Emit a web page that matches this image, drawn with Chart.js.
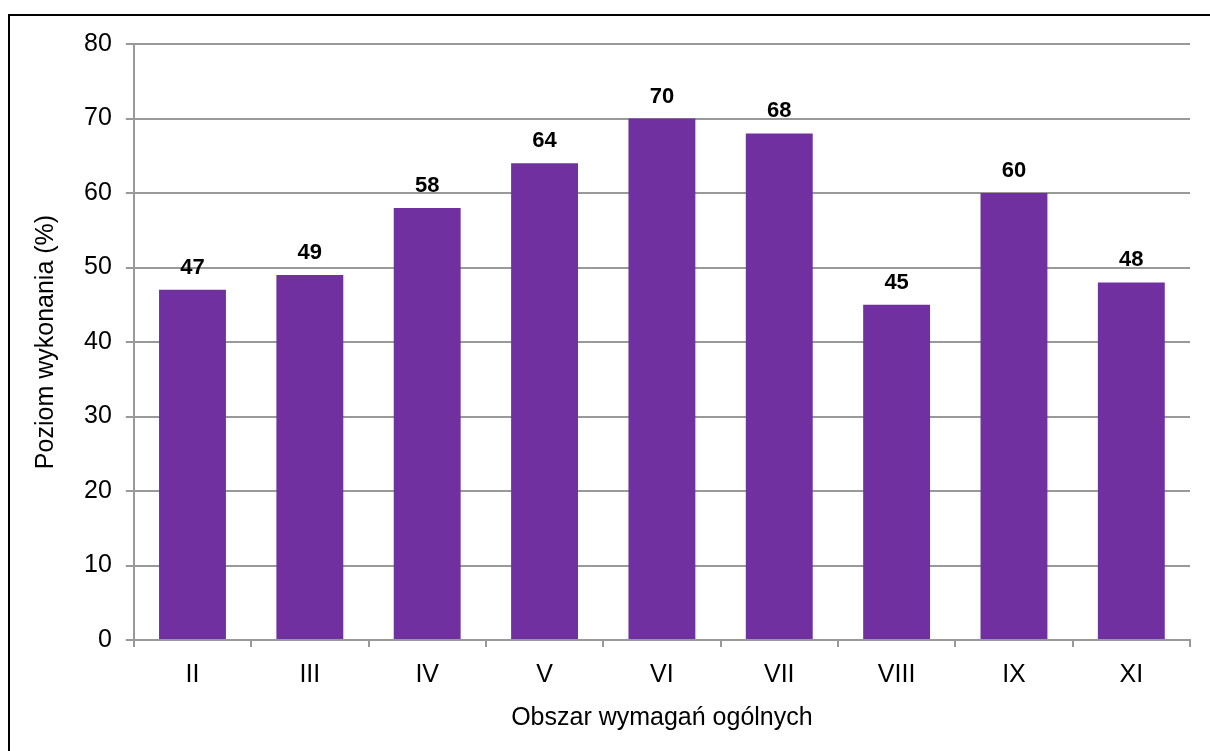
<!DOCTYPE html>
<html lang="pl">
<head>
  <meta charset="UTF-8">
  <title>Poziom wykonania</title>
  <script src="https://cdn.jsdelivr.net/npm/chart.js"></script>
  <style>
    html, body { margin: 0; padding: 0; background: #fff; }
    #wrap { position: relative; width: 1210px; height: 751px; overflow: hidden; }
    #frame { position: absolute; left: 8px; top: 14px; width: 1220px; height: 760px; border: 2px solid #000; box-sizing: border-box; }
    canvas { position: absolute; left: 0; top: 0; }
  </style>
</head>
<body>
<div id="wrap">
  <div id="frame"></div>
  <canvas id="chart" width="1210" height="751"></canvas>
</div>
<script>
const categories = ['II', 'III', 'IV', 'V', 'VI', 'VII', 'VIII', 'IX', 'XI'];
const values = [47, 49, 58, 64, 70, 68, 45, 60, 48];
const yTicks = [0, 10, 20, 30, 40, 50, 60, 70, 80];

const FONT = 'Liberation Sans, Arial, sans-serif';

// draws the value above each bar
const valueLabels = {
  id: 'valueLabels',
  afterDatasetsDraw(chart) {
    const ctx = chart.ctx;
    const meta = chart.getDatasetMeta(0);
    ctx.save();
    ctx.font = 'bold 22px ' + FONT;
    ctx.fillStyle = '#000';
    ctx.textAlign = 'center';
    ctx.textBaseline = 'alphabetic';
    meta.data.forEach((bar, i) => {
      ctx.fillText(values[i], bar.x, bar.y - 16);
    });
    ctx.restore();
  }
};

new Chart(document.getElementById('chart'), {
  type: 'bar',
  data: {
    labels: categories,
    datasets: [{
      data: values,
      backgroundColor: '#7030A0',
      categoryPercentage: 0.57,
      barPercentage: 1.0
    }]
  },
  options: {
    responsive: false,
    animation: false,
    layout: { padding: { left: 31, right: 20, top: 44, bottom: 18 } },
    plugins: { legend: { display: false }, tooltip: { enabled: false } },
    scales: {
      x: {
        grid: { offset: true, drawOnChartArea: false, color: '#999999', lineWidth: 2, tickLength: 7 },
        border: { color: '#999999', width: 2 },
        ticks: { color: '#000', font: { family: FONT, size: 25 }, padding: 13 },
        title: { display: true, text: 'Obszar wymagań ogólnych', color: '#000', font: { family: FONT, size: 25 }, padding: { top: 0, bottom: 0 } }
      },
      y: {
        min: 0, max: 80,
        afterBuildTicks(scale) { scale.ticks = yTicks.map(v => ({ value: v })); },
        grid: { color: '#999999', lineWidth: 2, tickLength: 8 },
        border: { color: '#999999', width: 2 },
        ticks: { color: '#000', font: { family: FONT, size: 25 }, padding: 14 },
        title: { display: true, text: 'Poziom wykonania (%)', color: '#000', font: { family: FONT, size: 25 }, padding: { top: 0, bottom: 9 } }
      }
    }
  },
  plugins: [valueLabels]
});
</script>
</body>
</html>
